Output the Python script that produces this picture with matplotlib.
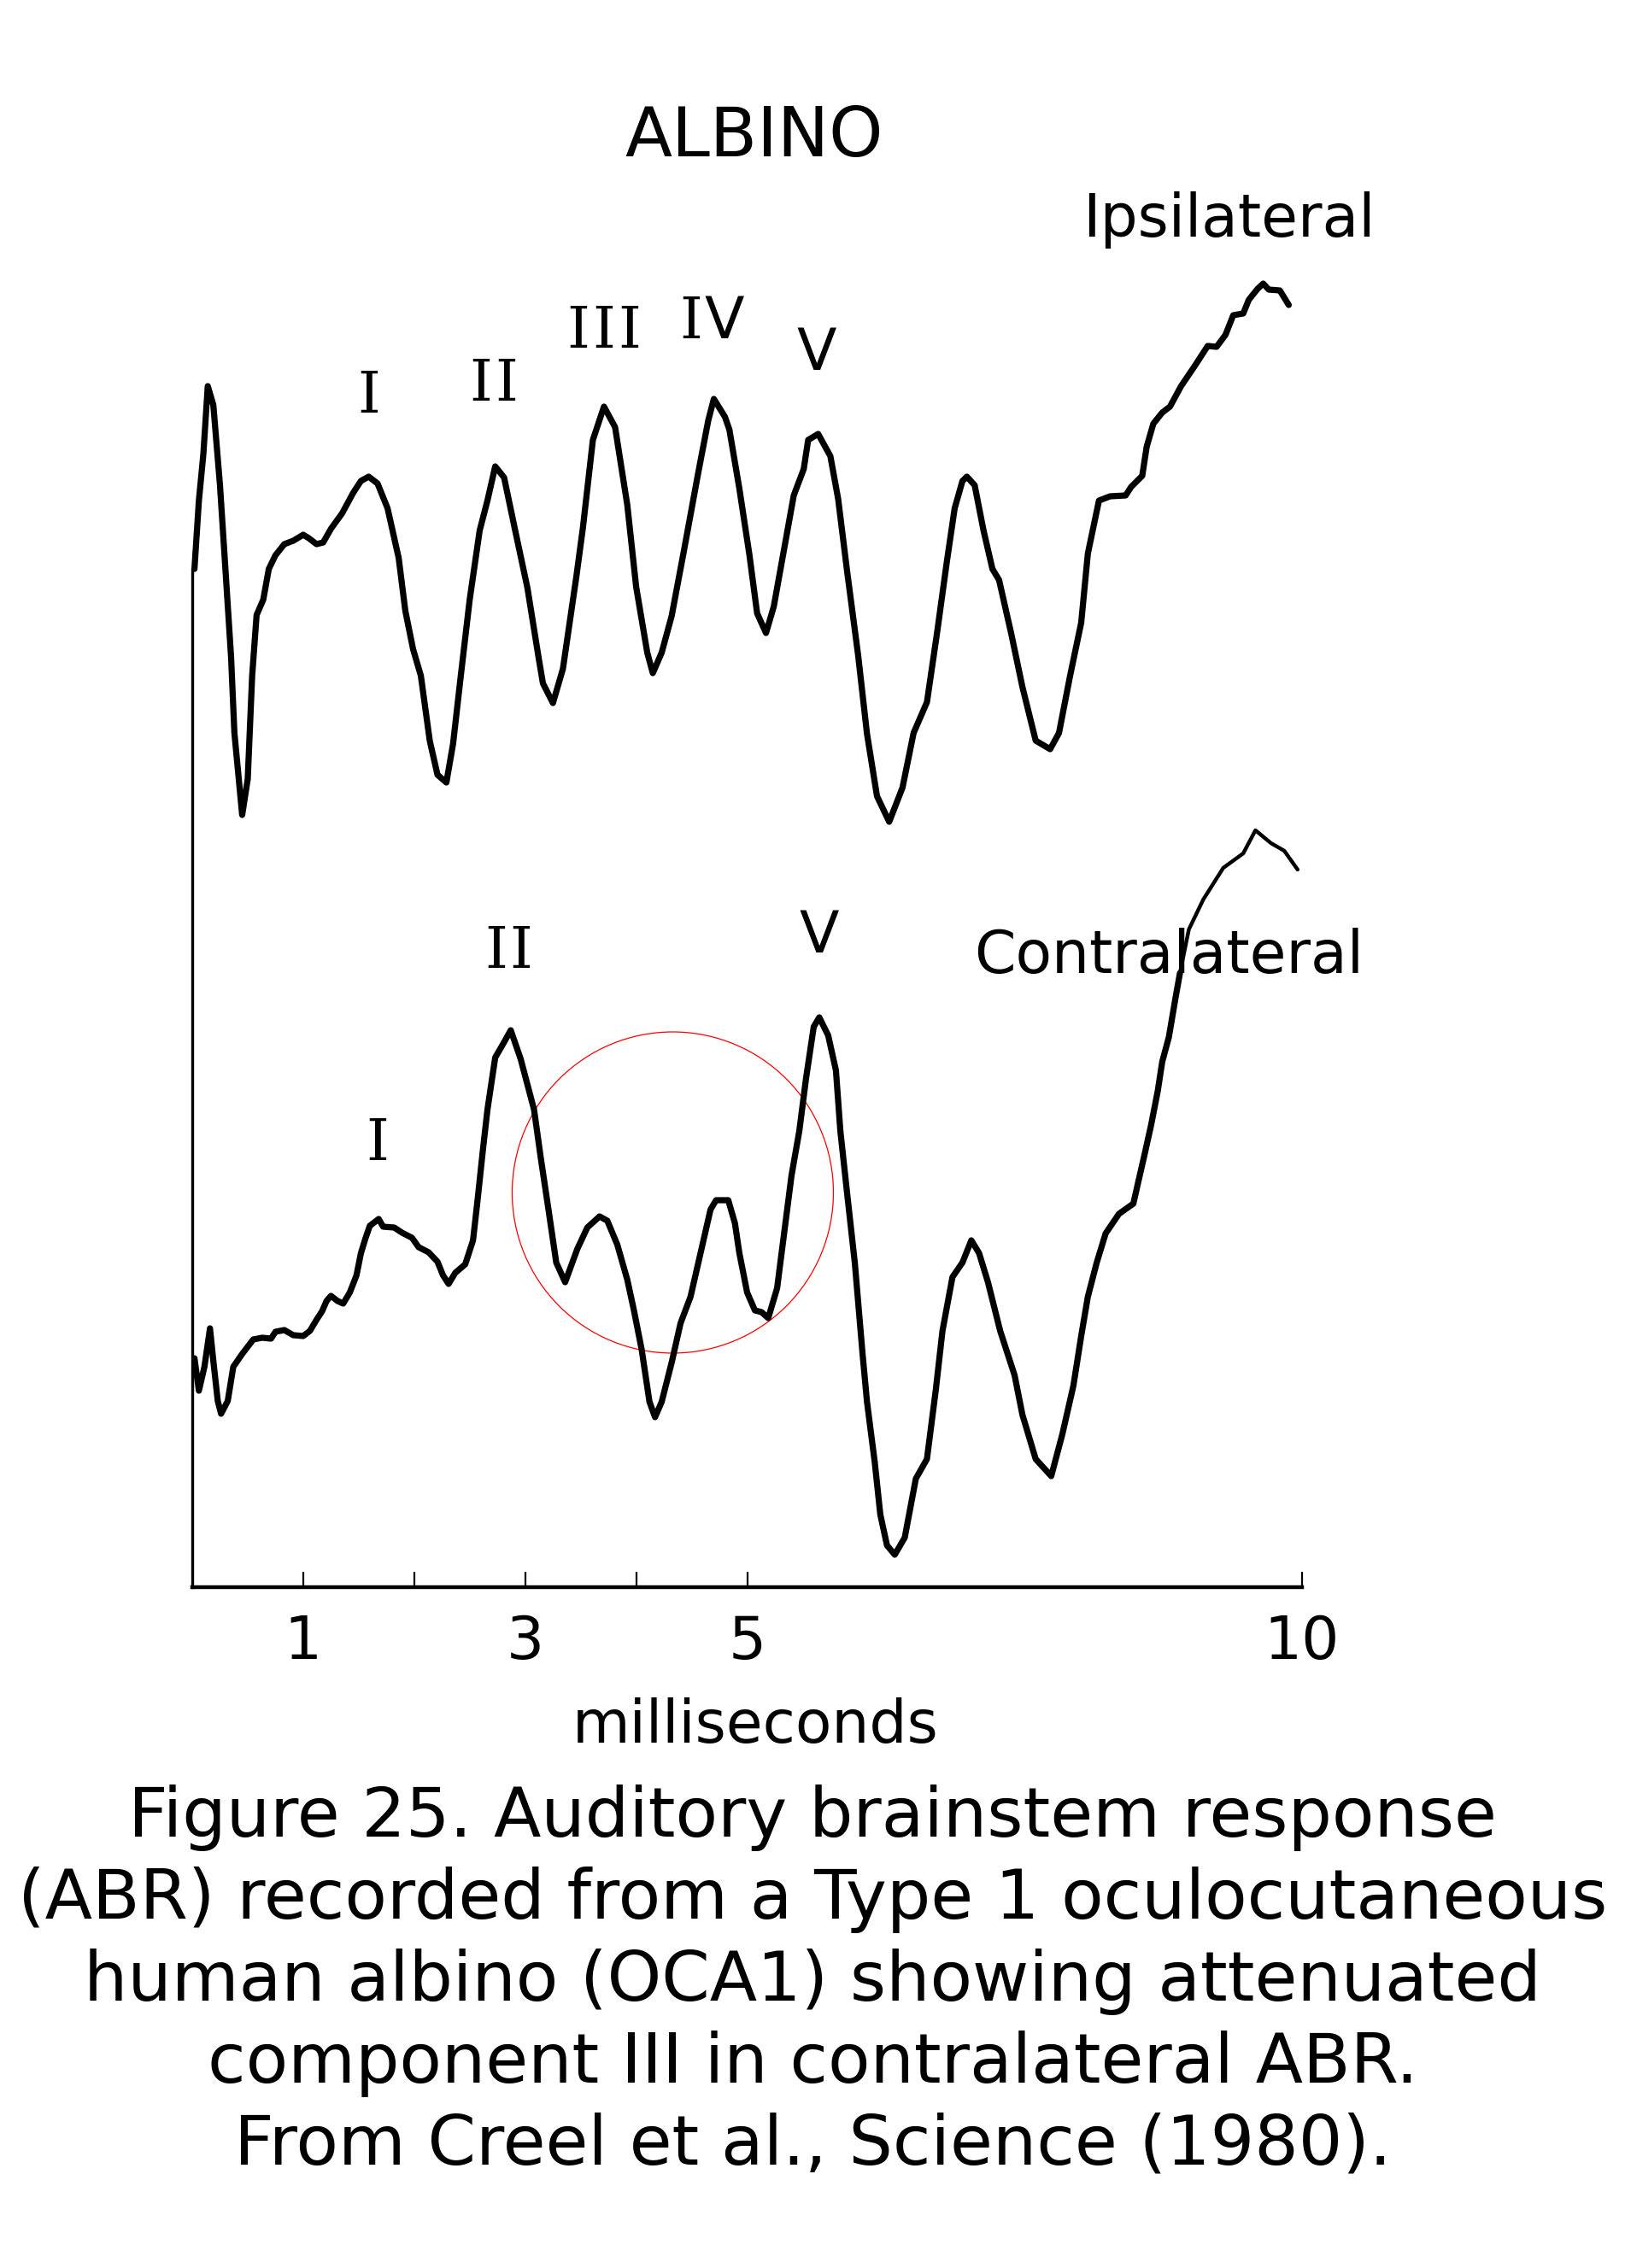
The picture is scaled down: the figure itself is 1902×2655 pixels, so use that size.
import matplotlib
matplotlib.use("Agg")
import matplotlib.pyplot as plt
from matplotlib.patches import Ellipse

plt.rcParams['font.family'] = ['DejaVu Sans']

W, H = 1902, 2655

# ipsilateral trace, time in ms, amplitude in arbitrary units above the baseline
ipsi_t = [0.02, 0.06, 0.10, 0.14, 0.19, 0.25, 0.29, 0.35, 0.38, 0.45, 0.50, 0.54, 0.58, 0.64, 0.69,
          0.75, 0.83, 0.91, 1.00, 1.05, 1.12, 1.18, 1.25, 1.35, 1.45, 1.52, 1.59, 1.67, 1.76, 1.86,
          1.92, 1.99, 2.06, 2.14, 2.21, 2.29, 2.35, 2.42, 2.50, 2.59, 2.66, 2.73, 2.81, 2.91, 3.02,
          3.12, 3.16, 3.25, 3.34, 3.46, 3.52, 3.61, 3.71, 3.81, 3.92, 4.00, 4.10, 4.15, 4.23, 4.32,
          4.43, 4.56, 4.65, 4.70, 4.80, 4.84, 4.93, 5.02, 5.09, 5.17, 5.24, 5.33, 5.42, 5.51, 5.55,
          5.64, 5.75, 5.82, 5.90, 6.00, 6.08, 6.17, 6.28, 6.40, 6.50, 6.62, 6.71, 6.80, 6.87, 6.94,
          6.98, 7.05, 7.13, 7.21, 7.27, 7.38, 7.48, 7.60, 7.73, 7.81, 7.91, 8.01, 8.07, 8.17, 8.27,
          8.41, 8.46, 8.56, 8.60, 8.66, 8.74, 8.81, 8.91, 9.03, 9.15, 9.23, 9.31, 9.38, 9.47, 9.52,
          9.60, 9.65, 9.70, 9.80, 9.88]
ipsi_v = [11.92, 12.72, 13.26, 14.06, 13.84, 12.90, 12.10, 10.89, 10.00, 9.04, 9.46, 10.67, 11.38, 11.56, 11.92,
          12.08, 12.21, 12.25, 12.32, 12.28, 12.21, 12.23, 12.39, 12.57, 12.81, 12.95, 13.00, 12.92, 12.63, 12.05,
          11.43, 10.98, 10.67, 9.91, 9.51, 9.42, 9.87, 10.67, 11.56, 12.37, 12.72, 13.12, 12.99, 12.37, 11.70,
          10.89, 10.58, 10.35, 10.75, 11.82, 12.40, 13.43, 13.82, 13.58, 12.67, 11.71, 10.94, 10.70, 10.94, 11.37,
          12.13, 13.05, 13.66, 13.91, 13.70, 13.55, 12.86, 12.09, 11.40, 11.17, 11.48, 12.13, 12.78, 13.09, 13.43,
          13.50, 13.24, 12.74, 11.90, 10.91, 9.99, 9.26, 8.96, 9.36, 10.00, 10.36, 11.16, 12.01, 12.63, 12.95,
          13.00, 12.90, 12.37, 11.92, 11.79, 11.16, 10.54, 9.91, 9.81, 10.00, 10.67, 11.29, 12.10, 12.72, 12.77,
          12.78, 12.88, 13.01, 13.35, 13.62, 13.75, 13.82, 14.06, 14.29, 14.53, 14.52, 14.66, 14.89, 14.91, 15.07,
          15.20, 15.26, 15.19, 15.18, 15.01]

# contralateral trace
contra_t = [0.02, 0.06, 0.11, 0.16, 0.19, 0.23, 0.26, 0.32, 0.37, 0.45, 0.55, 0.63, 0.71, 0.75, 0.83,
            0.91, 1.00, 1.06, 1.12, 1.17, 1.21, 1.25, 1.31, 1.36, 1.42, 1.48, 1.52, 1.56, 1.60, 1.68,
            1.72, 1.82, 1.89, 1.98, 2.04, 2.13, 2.21, 2.26, 2.31, 2.37, 2.46, 2.53, 2.57, 2.62, 2.66,
            2.73, 2.81, 2.87, 2.96, 3.08, 3.14, 3.21, 3.28, 3.36, 3.47, 3.56, 3.67, 3.74, 3.83, 3.92,
            3.98, 4.05, 4.12, 4.17, 4.23, 4.32, 4.40, 4.49, 4.58, 4.67, 4.72, 4.83, 4.89, 4.93, 5.00,
            5.07, 5.13, 5.19, 5.27, 5.33, 5.40, 5.47, 5.53, 5.60, 5.65, 5.73, 5.80, 5.84, 5.90, 5.97,
            6.04, 6.08, 6.15, 6.20, 6.26, 6.33, 6.42, 6.52, 6.62, 6.70, 6.76, 6.85, 6.94, 7.02, 7.09,
            7.17, 7.28, 7.41, 7.48, 7.60, 7.74, 7.84, 7.94, 8.01, 8.07, 8.15, 8.23, 8.35, 8.48, 8.52,
            8.58, 8.64, 8.70, 8.74, 8.80, 8.86, 8.90]
contra_v = [2.68, 2.30, 2.58, 3.03, 2.65, 2.18, 2.03, 2.18, 2.58, 2.73, 2.90, 2.92, 2.91, 2.99, 3.01,
            2.95, 2.94, 3.00, 3.13, 3.23, 3.35, 3.41, 3.35, 3.32, 3.45, 3.65, 3.91, 4.08, 4.23, 4.31,
            4.22, 4.21, 4.15, 4.09, 3.98, 3.92, 3.81, 3.65, 3.55, 3.68, 3.78, 4.06, 4.52, 5.13, 5.59,
            6.20, 6.38, 6.52, 6.18, 5.59, 5.03, 4.42, 3.80, 3.57, 3.96, 4.21, 4.34, 4.29, 4.01, 3.60,
            3.24, 2.78, 2.17, 1.99, 2.17, 2.63, 3.09, 3.40, 3.91, 4.42, 4.53, 4.53, 4.26, 3.91, 3.45,
            3.24, 3.22, 3.15, 3.50, 4.11, 4.82, 5.34, 5.95, 6.56, 6.67, 6.46, 6.05, 5.34, 4.62, 3.80,
            2.73, 2.17, 1.46, 0.85, 0.49, 0.38, 0.58, 1.27, 1.50, 2.31, 3.00, 3.63, 3.80, 4.06, 3.91,
            3.57, 3.00, 2.48, 2.02, 1.50, 1.30, 1.79, 2.36, 2.94, 3.40, 3.80, 4.14, 4.37, 4.49, 4.72,
            5.06, 5.41, 5.81, 6.15, 6.44, 6.90, 7.19]
# hand-drawn thin end of the contralateral trace
tail_t = [8.90, 8.98, 9.11, 9.29, 9.47, 9.58, 9.72, 9.84, 9.96]
tail_v = [7.19, 7.70, 8.05, 8.42, 8.59, 8.86, 8.71, 8.62, 8.40]

xticks = [1, 2, 3, 4, 5, 10]
xtick_labels = ['1', '', '3', '', '5', '10']

# peak labels: (glyph, x px, baseline px)
peak_marks = [('I', 432, 483), ('I', 563, 469), ('I', 593, 469),
              ('I', 677, 407), ('I', 707, 407), ('I', 737, 407),
              ('I', 809, 396), ('V', 848, 396), ('V', 956, 433),
              ('I', 442, 1358), ('I', 581, 1133), ('I', 610, 1133), ('V', 959, 1115)]

caption = ["Figure 25. Auditory brainstem response",
           "(ABR) recorded from a Type 1 oculocutaneous",
           "human albino (OCA1) showing attenuated",
           "component III in contralateral ABR.",
           "From Creel et al., Science (1980)."]


def fx(x):
    return x / W


def fy(y):
    return 1 - y / H


fig = plt.figure(figsize=(W / 100, H / 100), dpi=100)
ax = fig.add_axes([fx(225), fy(1858), 1299 / W, 1600 / H])
ax.set_xlim(0, 10)
ax.set_ylim(0, 16)

style = dict(color='black', solid_joinstyle='round', solid_capstyle='round', clip_on=False)
ax.plot(ipsi_t, ipsi_v, lw=5.2, **style)
ax.plot(contra_t, contra_v, lw=5.2, **style)
ax.plot(tail_t, tail_v, lw=3.2, **style)

# red circle round the missing component III
ax.add_patch(Ellipse((4.33, 4.62), 2 * 188 / 129.9, 3.76, fill=False, edgecolor='red', lw=0.9))

for s in ['top', 'right']:
    ax.spines[s].set_visible(False)
ax.spines['left'].set_bounds(0, ipsi_v[0])
ax.spines['left'].set_linewidth(2.4)
ax.spines['bottom'].set_bounds(0, 10)
ax.spines['bottom'].set_linewidth(3.2)
ax.set_yticks([])
ax.set_xticks(xticks)
ax.set_xticklabels(xtick_labels)
ax.tick_params(axis='x', direction='in', length=13, width=1.6, pad=22, labelsize=50)

for ch, x, y in peak_marks:
    fam = 'DejaVu Serif' if ch == 'I' else 'DejaVu Sans'
    fig.text(fx(x), fy(y), ch, family=fam, fontsize=49, ha='center', va='baseline')

fig.text(fx(883), fy(183), 'ALBINO', fontsize=58, ha='center', va='baseline')
fig.text(fx(1267), fy(277), 'Ipsilateral', fontsize=50, ha='left', va='baseline')
fig.text(fx(1140), fy(1139), 'Contralateral', fontsize=50, ha='left', va='baseline')
fig.text(fx(884), fy(2040), 'milliseconds', fontsize=50, ha='center', va='baseline')

for i, line in enumerate(caption):
    fig.text(fx(951), fy(2150 + 96 * i), line, fontsize=58.3, ha='center', va='baseline')

fig.savefig('out.png', dpi=100, facecolor='white')
